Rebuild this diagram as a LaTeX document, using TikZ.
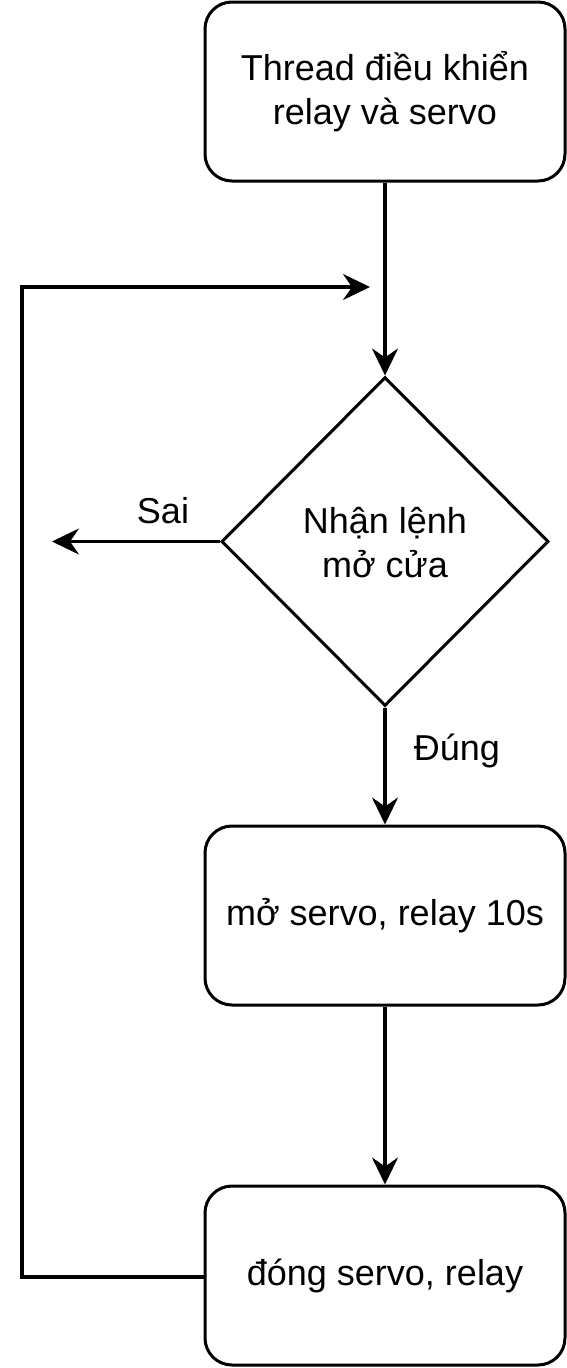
\documentclass[tikz,border=0pt]{standalone}
\usepackage{fontspec}
\setmainfont{Liberation Sans}
\usetikzlibrary{arrows.meta,shapes.geometric}
\begin{document}
\begin{tikzpicture}[x=1pt,y=-1pt,
  box/.style={draw=black,line width=3pt,rounded corners=27pt,minimum width=360pt,minimum height=179pt,align=center,font=\fontsize{36}{44}\selectfont,inner sep=0pt},
  conn/.style={line width=3.2pt,-{Stealth[length=27pt,width=26pt,inset=9pt]}},
  lbl/.style={font=\fontsize{36}{40}\selectfont,inner sep=0pt}]
\useasboundingbox (0,0) rectangle (567,1368);
\node[box] (b1) at (385,91.5) {Thread điều khiển\\relay và servo};
\node[draw=black,line width=3pt,diamond,inner sep=0pt,
  shape aspect=1, xscale=327/329, minimum size=329pt] (d) at (385,541.5) {};
\node[font=\fontsize{36}{44}\selectfont,align=center] (dtxt) at (385,543) {Nhận lệnh\\mở cửa};
\node[box] (b2) at (385,915.5) {mở servo, relay 10s};
\node[box] (b3) at (385,1275.5) {đóng servo, relay};
\coordinate (loopA) at (22,1277);
\coordinate (loopB) at (22,287);
\coordinate (loopC) at (370,287);
\coordinate (sai) at (52,541.5);
\draw[conn] (b1.south) -- (d.north);
\draw[conn] (d.west) -- (sai);
\draw[conn] (d.south) -- (b2.north);
\draw[conn] (b2.south) -- (b3.north);
\draw[conn] (b3.west |- loopA) -- (loopA) -- (loopB) -- (loopC);
\node[lbl] (lsai) at (163,511) {Sai};
\node[lbl] (ldung) at (457,751) {Đúng};
\end{tikzpicture}
\end{document}
